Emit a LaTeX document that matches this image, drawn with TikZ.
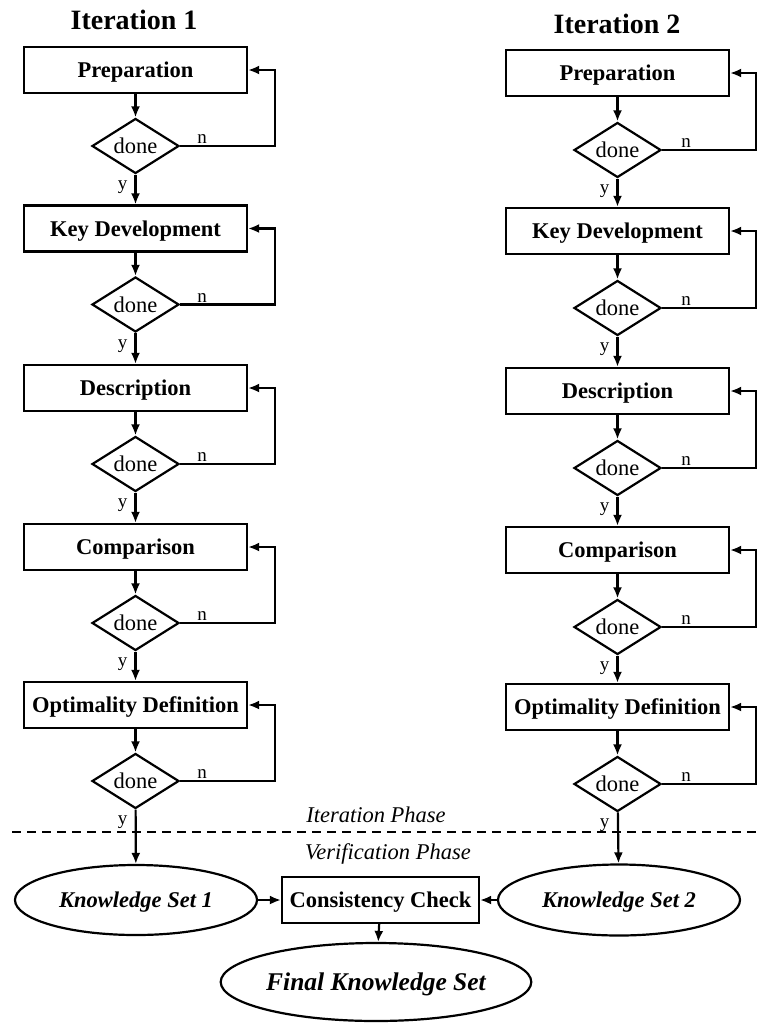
\documentclass[tikz,border=0pt]{standalone}
\usepackage{fontspec}
\setmainfont{Liberation Serif}
\usetikzlibrary{shapes.geometric,arrows.meta,calc}
\begin{document}
\begin{tikzpicture}[x=1pt,y=-1pt,line width=2.2pt,
  box/.style={draw,rectangle,minimum width=223pt,minimum height=46pt,inner sep=0pt,
    font=\fontsize{22.5}{27}\selectfont\bfseries,text height=15pt,text depth=0pt},
  dec/.style={draw,diamond,minimum width=87pt,minimum height=55pt,inner sep=0pt,aspect=1.58,
    font=\fontsize{22.5}{27}\selectfont,text height=15pt,text depth=0pt},
  ell/.style={draw,ellipse,inner sep=0pt,
    font=\fontsize{22.5}{27}\selectfont\bfseries\itshape,text height=15pt,text depth=0pt},
  arr/.style={-{Latex[length=11pt,width=9pt]}},
  lab/.style={font=\fontsize{19}{21}\selectfont,inner sep=1pt},
  ttl/.style={font=\fontsize{28}{32}\selectfont\bfseries,text height=19pt,text depth=0pt,inner sep=0pt},
  phase/.style={font=\fontsize{22.5}{27}\selectfont\itshape,text height=15pt,text depth=0pt,inner sep=0pt}
]
\useasboundingbox (0,0) rectangle (758,1023);

\node[ttl] (t1) at (134,20) {Iteration 1};
\node[ttl] (t2) at (617,24) {Iteration 2};

\coordinate (LL) at (275,0);
\coordinate (RR) at (756,0);

\foreach \i/\t/\yl/\yr in {1/Preparation/70/73, 2/Key Development/228.5/231, 3/Description/388/391, 4/Comparison/547/550, 5/Optimality Definition/705/707} {
  % left column
  \node[box] (p\i) at (135.5,\yl) {\t};
  \node[dec] (d\i) at (135.5,\yl+76) {done};
  \draw[arr] (p\i) -- (d\i);
  \draw[arr] (d\i.east) -- (d\i.east -| LL) |- (p\i.east);
  \node[lab,anchor=south] (nl\i) at ($(d\i.east)+(22,0)$) {n};
  \node[lab,anchor=east] (yl\i) at ($(d\i.south)+(-6,13)$) {y};
  % right column
  \node[box] (q\i) at (617.5,\yr) {\t};
  \node[dec] (e\i) at (617.5,\yr+77) {done};
  \draw[arr] (q\i) -- (e\i);
  \draw[arr] (e\i.east) -- (e\i.east -| RR) |- (q\i.east);
  \node[lab,anchor=south] (nr\i) at ($(e\i.east)+(24,0)$) {n};
  \node[lab,anchor=east] (yr\i) at ($(e\i.south)+(-6,13)$) {y};
}
\foreach \i/\j in {1/2,2/3,3/4,4/5} {
  \draw[arr] (d\i) -- (p\j);
  \draw[arr] (e\i) -- (q\j);
}

% phase separator
\coordinate (dl) at (12,832);
\coordinate (dr) at (758,832);
\draw[dash pattern=on 9pt off 6pt] (dl) -- (dr);
\node[phase] (ip) at (376,815) {Iteration Phase};
\node[phase] (vp) at (388,852) {Verification Phase};

% verification
\node[ell,minimum width=242pt,minimum height=70pt] (k1) at (136,900) {Knowledge Set 1};
\node[ell,minimum width=242pt,minimum height=71pt] (k2) at (619,900) {Knowledge Set 2};
\node[box,minimum width=197pt] (cc) at (380.5,900) {Consistency Check};
\node[ell,minimum width=245pt,minimum height=78pt,
  font=\fontsize{25.5}{30}\selectfont\bfseries\itshape,text height=17pt] (fk) at (376,982) {Final Knowledge Set};

\draw[arr] (d5) -- (k1);
\draw[arr] (e5) -- (k2);
\draw[arr] (k1) -- (cc);
\draw[arr] (k2) -- (cc);
\draw[arr] (cc) -- (fk);
\end{tikzpicture}
\end{document}
